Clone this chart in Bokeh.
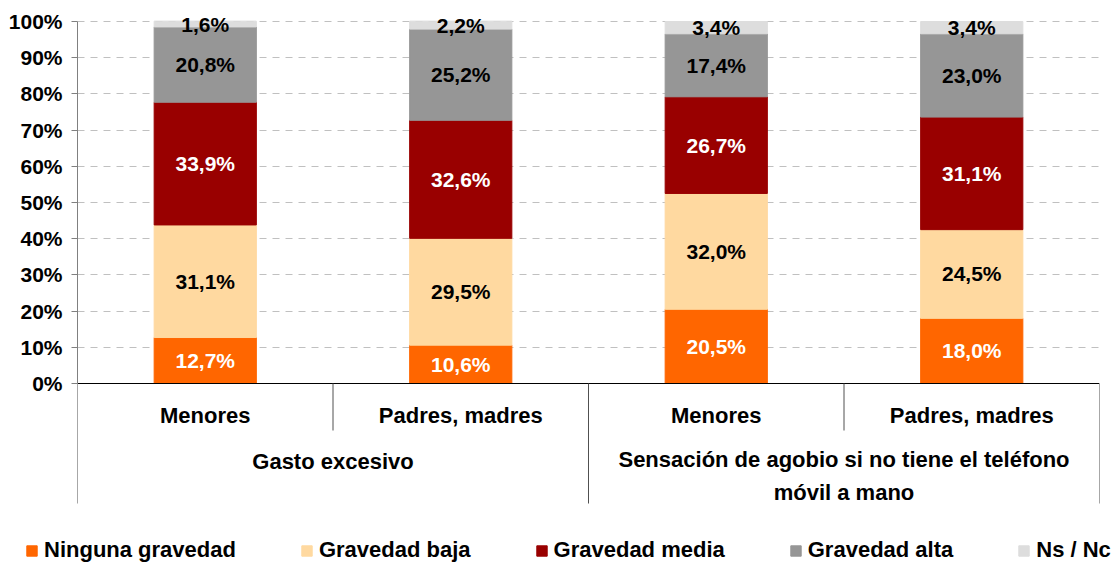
from bokeh.plotting import figure
from bokeh.layouts import column
from bokeh.models import ColumnDataSource, Legend, LegendItem, FixedTicker, Range1d
from bokeh.core.properties import value
from bokeh.embed import file_html
from bokeh.resources import INLINE

# ---------------- data ----------------
groups = ["Gasto excesivo", "Sensación de agobio si no tiene el teléfono\nmóvil a mano"]
categories = ["Menores", "Padres, madres", "Menores", "Padres, madres"]
category_group = [0, 0, 1, 1]
series = ["Ninguna gravedad", "Gravedad baja", "Gravedad media", "Gravedad alta", "Ns / Nc"]
ninguna = [12.7, 10.6, 20.5, 18.0]
baja = [31.1, 29.5, 32.0, 24.5]
media = [33.9, 32.6, 26.7, 31.1]
alta = [20.8, 25.2, 17.4, 23.0]
nsnc = [1.6, 2.2, 3.4, 3.4]
colors = ["#FF6600", "#FFD9A0", "#990000", "#969696", "#DDDDDD"]
label_colors = ["white", "black", "white", "black", "black"]
y_ticks = [0, 10, 20, 30, 40, 50, 60, 70, 80, 90, 100]
y_tick_labels = ["0%", "10%", "20%", "30%", "40%", "50%", "60%", "70%", "80%", "90%", "100%"]

FONT = "Liberation Sans"
PX = 3.62  # px per percent unit
Y0 = 383   # page y of 0%
TOP = 12
BOTTOM = 530

def ydat(py):
    return (Y0 - py) / PX

keys = ["ninguna", "baja", "media", "alta", "nsnc"]
values = [ninguna, baja, media, alta, nsnc]
n = len(categories)
xs = [i + 0.5 for i in range(n)]

src = ColumnDataSource(dict(x=xs, **{k: v for k, v in zip(keys, values)}))

p = figure(frame_width=1022, frame_height=BOTTOM - TOP,
           x_range=Range1d(0, n), y_range=Range1d(ydat(BOTTOM), ydat(TOP)),
           x_axis_type=None, output_backend="svg", toolbar_location=None,
           min_border_left=77, min_border_right=6, min_border_top=TOP, min_border_bottom=0)
p.outline_line_color = None
p.background_fill_color = "white"

# y axis
ax = p.yaxis[0]
ax.ticker = FixedTicker(ticks=y_ticks)
ax.bounds = (0, 100)
ax.major_label_overrides = {t: l for t, l in zip(y_ticks, y_tick_labels)}
ax.major_label_text_font = FONT
ax.major_label_text_font_style = "bold"
ax.major_label_text_font_size = "21px"
ax.major_label_text_color = "black"
ax.axis_line_color = "#808080"
ax.major_tick_line_color = "#808080"
ax.major_tick_out = 6
ax.major_tick_in = 0
ax.minor_tick_out = 0
ax.minor_tick_in = 0
ax.major_label_standoff = 9

p.ygrid.grid_line_color = "#C0C0C0"
p.ygrid.grid_line_dash = "7 6"
p.ygrid.grid_line_width = 1

# bars
renderers = p.vbar_stack(keys, x="x", width=0.4, color=colors, source=src)

# segment labels
lx, ly, lt, lc = [], [], [], []
for i in range(n):
    base = 0.0
    for s, vals in enumerate(values):
        v = vals[i]
        lx.append(xs[i])
        ly.append(base + v / 2)
        lt.append(f"{v:.1f}%".replace(".", ","))
        lc.append(label_colors[s])
        base += v
p.text(x=lx, y=ly, text=lt, text_color=lc, text_align="center", text_baseline="middle",
       text_font=value(FONT), text_font_style="bold", text_font_size="21px")

# axis line at 0 and separators
p.segment(x0=[0], y0=[0], x1=[n], y1=[0], line_color="black", line_width=1)
sx0, sy1 = [], []
for b in range(n + 1):
    if b == 0 or b == n or category_group[b - 1] != category_group[b]:
        sy1.append(ydat(503))
    else:
        sy1.append(ydat(430))
    sx0.append(b)
p.segment(x0=sx0, y0=[0] * len(sx0), x1=sx0, y1=sy1, line_color="#505050", line_width=1)

# category labels
p.text(x=xs, y=[ydat(415)] * n, text=categories, text_align="center", text_baseline="middle",
       text_font=value(FONT), text_font_style="bold", text_font_size="22px", text_color="black")

# group labels
gx, gy = [], []
line_h = 29
for g, name in enumerate(groups):
    members = [xs[i] for i in range(n) if category_group[i] == g]
    gx.append(sum(members) / len(members))
    nl = name.count("\n") + 1
    gy.append(ydat(461 + (nl - 1) * line_h / 2))
p.text(x=gx, y=gy, text=groups, text_align="center", text_baseline="middle",
       text_font=value(FONT), text_font_style="bold", text_font_size="22px", text_color="black",
       text_line_height=line_h / 22)

# legend (in its own strip so it can span the full width)
pl = figure(frame_width=1112, frame_height=35, x_range=Range1d(0, 1), y_range=Range1d(0, 1),
            x_axis_type=None, y_axis_type=None, output_backend="svg", toolbar_location=None,
            min_border_left=0, min_border_right=0, min_border_top=0, min_border_bottom=0)
pl.outline_line_color = None
pl.xgrid.visible = False
pl.ygrid.visible = False
# swatch renderers placed outside the visible range; only their legend entries show
swatches = [pl.vbar(x=[5], top=[1], width=0.1, color=c) for c in colors]
items = [LegendItem(label=s, renderers=[r]) for s, r in zip(series, swatches)]
legend = Legend(items=items, orientation="horizontal", location=(25, 2),
                glyph_width=13, glyph_height=13, label_standoff=6, spacing=64,
                padding=0, margin=0, border_line_color=None, background_fill_alpha=0,
                label_text_font=FONT, label_text_font_style="bold", label_text_font_size="22px",
                label_text_color="black")
pl.add_layout(legend, "center")

layout = column(p, pl, spacing=0)
open("out.html", "w").write(file_html(layout, INLINE))
